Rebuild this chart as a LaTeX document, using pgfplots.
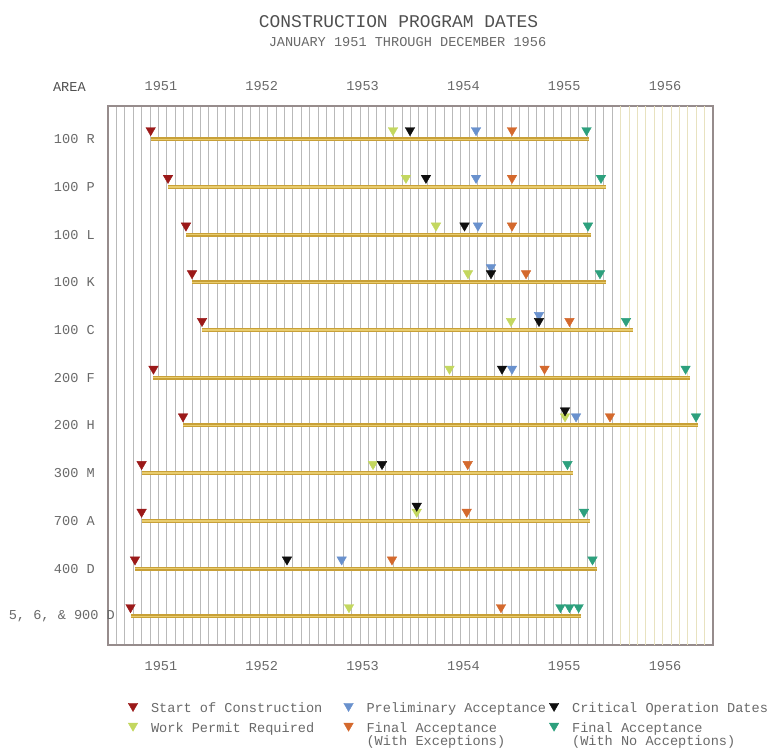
\documentclass[border=0pt]{standalone}
\usepackage{fontspec}
\setmainfont{Liberation Mono}
\usepackage{pgfplots}
\usepackage{pgfplotstable}
\pgfplotsset{compat=1.18}
\definecolor{cRed}{RGB}{155,25,25}
\definecolor{cBlue}{RGB}{105,145,205}
\definecolor{cBlack}{RGB}{15,15,15}
\definecolor{cGreen}{RGB}{195,215,95}
\definecolor{cOrange}{RGB}{212,105,45}
\definecolor{cTeal}{RGB}{45,160,125}
\definecolor{barDark}{RGB}{200,160,55}
\definecolor{barLight}{RGB}{232,204,110}
\definecolor{gridGray}{RGB}{185,185,185}
\definecolor{gridCream}{RGB}{232,226,192}
\definecolor{frameCol}{RGB}{150,140,140}
\definecolor{txt}{RGB}{105,105,105}
\definecolor{ttl}{RGB}{80,80,80}
\newcommand\lf{\fontsize{13.6}{13}\selectfont}
\newcommand\lt[2][206pt]{\raisebox{0pt}[6pt][6pt]{\makebox[#1][l]{\hspace{13.25pt}#2}}}
\newcommand\ltt[3][206pt]{\raisebox{0pt}[6pt][6pt]{\makebox[#1][l]{\hspace{13.25pt}\vtop{\hbox{#2}\hbox{#3}}}}}
\tikzset{legmk/.style={mark=triangle*, mark size=5.5pt, mark options={yshift=4.5pt,rotate=180}}}
\pgfplotsset{
 mk/.style={only marks, mark=triangle*, mark size=5.5pt, mark options={yshift=9pt, rotate=180}, forget plot},
 mkup/.style={only marks, mark=triangle*, mark size=5.5pt, mark options={yshift=15pt, rotate=180}, forget plot},
}
% bars: start and end (months since Jan 1951), row (11 = top)
\pgfplotstableread{
x y
5.08 11
57.24 11
nan nan
7.14 10
59.27 10
nan nan
9.28 9
57.48 9
nan nan
10.00 8
59.27 8
nan nan
11.19 7
62.48 7
nan nan
5.41 6
69.26 6
nan nan
8.93 5
70.21 5
nan nan
4.00 4
55.34 4
nan nan
4.00 3
57.42 3
nan nan
3.21 2
58.20 2
nan nan
2.68 1
56.29 1
}\bars
\begin{document}
\begin{tikzpicture}
\useasboundingbox (0,0) rectangle (769pt,-751pt);
\node[font=\fontsize{17.9}{18}\selectfont, text=ttl, inner sep=0pt] at (398.5pt,-21.7pt) {CONSTRUCTION PROGRAM DATES};
\node[font=\lf, text=txt, inner sep=0pt] at (407.5pt,-41.7pt) {JANUARY 1951 THROUGH DECEMBER 1956};
\node[font=\lf, text=ttl, inner sep=0pt] at (69.4pt,-87.3pt) {AREA};
\begin{axis}[
 at={(108pt,-106pt)}, anchor=north west,
 scale only axis, width=605pt, height=539pt,
 xmin=0, xmax=72, ymin=0.398, ymax=11.698,
 axis line style={draw=frameCol, line width=1.2pt},
 xtick={6,18,30,42,54,66},
 xticklabels={1951,1952,1953,1954,1955,1956},
 ytick={1,...,11},
 yticklabels={{\makebox[86pt][l]{5, 6, \& 900 D}},400 D,700 A,300 M,200 H,200 F,100 C,100 K,100 L,100 P,100 R},
 major tick length=0pt, minor tick length=0pt,
 tick style={draw=none},
 minor xtick={1,...,60},
 xminorgrids=true,
 minor grid style={draw=gridGray, line width=0.9pt},
 extra x ticks={61,...,71},
 extra x tick labels={},
 extra x tick style={xmajorgrids=true, major grid style={draw=gridCream, line width=0.9pt}},
 ticklabel style={font=\lf, text=txt, inner sep=0pt},
 xticklabel style={anchor=center, yshift=-21pt, xshift=2.5pt},
 yticklabel style={anchor=east, xshift=-13pt},
 unbounded coords=jump,
 clip=false,
 legend columns=3,
 legend cell align=left,
 legend style={at={(0.0335,-0.1081)}, anchor=north west, draw=none, fill=none,
   inner sep=0pt, outer sep=0pt, font=\lf, column sep=0pt, row sep=8.75pt,
   nodes={inner sep=0pt, outer sep=0pt, text=txt}},
 legend image code/.code={\draw[#1] plot coordinates {(0pt,0pt)};},
]
\addplot[draw=barDark, line width=4pt, forget plot] table {\bars};
\addplot[draw=barLight, line width=1.4pt, forget plot] table {\bars};
% Start of Construction
\addplot[mk, color=cRed] coordinates {(5.08,11)(7.14,10)(9.28,9)(10.00,8)(11.19,7)(5.41,6)(8.93,5)(4.00,4)(4.00,3)(3.21,2)(2.68,1)};
% Preliminary Acceptance (raised)
\addplot[mkup, color=cBlue] coordinates {(45.58,8)(51.29,7)};
% Work Permit Required
\addplot[mk, color=cGreen] coordinates {(33.92,11)(35.46,10)(39.03,9)(42.84,8)(47.96,7)(40.64,6)(54.39,5)(31.54,4)(36.74,3)(28.68,1)};
% Preliminary Acceptance
\addplot[mk, color=cBlue] coordinates {(43.80,11)(43.80,10)(44.03,9)(48.08,6)(55.70,5)(27.81,2)};
% Critical Operation Dates
\addplot[mk, color=cBlack] coordinates {(35.94,11)(37.84,10)(42.43,9)(45.58,8)(51.29,7)(46.89,6)(32.61,4)(21.30,2)};
\addplot[mkup, color=cBlack] coordinates {(54.39,5)(36.74,3)};
% Final Acceptance (With Exceptions)
\addplot[mk, color=cOrange] coordinates {(48.08,11)(48.08,10)(48.08,9)(49.75,8)(54.92,7)(51.95,6)(59.74,5)(42.81,4)(42.69,3)(33.80,2)(46.77,1)};
% Final Acceptance (With No Acceptions)
\addplot[mk, color=cTeal] coordinates {(56.95,11)(58.67,10)(57.12,9)(58.55,8)(61.65,7)(68.74,6)(69.98,5)(54.68,4)(56.65,3)(57.66,2)(53.84,1)(54.92,1)(56.01,1)};
\addlegendimage{legmk, color=cRed}
\addlegendentry{\lt{Start of Construction}}
\addlegendimage{legmk, color=cBlue}
\addlegendentry{\lt[196pt]{Preliminary Acceptance}}
\addlegendimage{legmk, color=cBlack}
\addlegendentry{\lt[200pt]{Critical Operation Dates}}
\addlegendimage{legmk, color=cGreen}
\addlegendentry{\lt{Work Permit Required}}
\addlegendimage{legmk, color=cOrange}
\addlegendentry{\ltt[196pt]{Final Acceptance}{(With Exceptions)}}
\addlegendimage{legmk, color=cTeal}
\addlegendentry{\ltt[200pt]{Final Acceptance}{(With No Acceptions)}}
\end{axis}
\begin{axis}[
 at={(108pt,-106pt)}, anchor=north west,
 scale only axis, width=605pt, height=539pt,
 xmin=0, xmax=72, ymin=0, ymax=1,
 axis line style={draw=none}, tick style={draw=none},
 major tick length=0pt,
 ytick=\empty,
 xtick={6,18,30,42,54,66},
 xticklabels={1951,1952,1953,1954,1955,1956},
 xticklabel pos=upper,
 ticklabel style={font=\lf, text=txt, inner sep=0pt},
 xticklabel style={anchor=center, yshift=20pt, xshift=2.5pt},
]
\end{axis}
\end{tikzpicture}
\end{document}
